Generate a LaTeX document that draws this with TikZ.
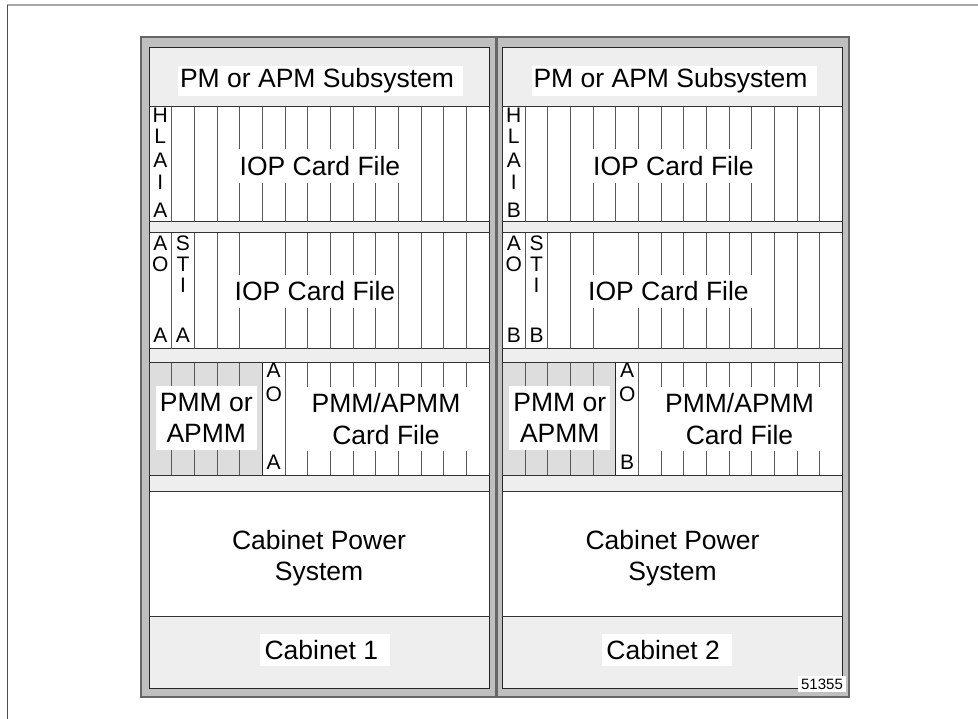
\documentclass[tikz,border=0pt]{standalone}
\usepackage{fontspec}
\setmainfont{Liberation Sans}
\definecolor{bezel}     {HTML}{BFBFBF}
\definecolor{panelgray} {HTML}{EEEEEE}
\definecolor{pmmgray}   {HTML}{DDDDDD}
\newcommand{\cabfont}{\fontsize{26.5}{31.5}\selectfont}
\newcommand{\ltrfont}{\fontsize{21}{23}\selectfont}
\newcommand{\idfont}{\fontsize{15}{17}\selectfont}
\tikzset{
  bezelbox/.style={draw=black!60, fill=bezel, line width=1.5pt},
  panelbox/.style={draw=black!85, fill=panelgray, line width=1pt},
  filebox/.style={draw=black!80, fill=white, line width=1pt},
  slotline/.style={draw=black!65, line width=0.8pt},
  tag/.style={fill=white, font=\cabfont, inner xsep=3pt, inner ysep=7pt, align=center},
  ltr/.style={font=\ltrfont, inner sep=0pt}
}

\begin{document}
\begin{tikzpicture}[x=1pt,y=-1pt]
  \useasboundingbox (0,0) rectangle (978,719);
  % page frame
  \draw[black!35, line width=1.5pt] (7,5) -- (978,5);
  \draw[black!70, line width=1pt] (7,5) -- (7,719);

  \foreach \cab/\ox/\bl/\side/\cx in {1/0/141/A/325, 2/353.5/497/B/666.8}{
    % cabinet frame
    \draw[bezelbox] (\bl,37) rectangle (\ox+495.5,697);
    \draw[panelbox] (\ox+149,48) rectangle (\ox+489,688);
    \node[tag, inner xsep=2pt, inner ysep=2.5pt] (pm\cab) at (\ox+320.7,81) {PM or APM Subsystem~};

    % first IOP card file
    \draw[filebox] (\ox+149,107) rectangle (\ox+489,222);
    \foreach \k in {1,...,14}
      \draw[slotline] (\ox+149+\k*22.667,107) -- (\ox+149+\k*22.667,222);
    \node[tag] (iopa\cab) at (\ox+320,166) {IOP Card File};
    \foreach \l/\y [count=\n] in {H/115.5, L/136, A/160, I/182, \side/210}
      \node[ltr] (hlai\cab-\n) at (\ox+160.3,\y) {\l};

    % second IOP card file
    \draw[filebox] (\ox+149,233) rectangle (\ox+489,349);
    \foreach \k in {1,2,3,4,6,7,...,14}
      \draw[slotline] (\ox+149+\k*22.667,233) -- (\ox+149+\k*22.667,349);
    \node[tag] (iopb\cab) at (\ox+315,291.5) {IOP Card File};
    \foreach \l/\y [count=\n] in {A/243, O/264, \side/335}
      \node[ltr] (ao\cab-\n) at (\ox+160.3,\y) {\l};
    \foreach \l/\y [count=\n] in {S/243.5, T/264.5, I/285.5, \side/335}
      \node[ltr] (sti\cab-\n) at (\ox+183,\y) {\l};

    % PMM card file
    \draw[filebox] (\ox+149,363) rectangle (\ox+489,475);
    \fill[pmmgray] (\ox+149.5,363.5) rectangle (\ox+262.3,474.5);
    \foreach \k in {1,2,3,4,6,7,...,14}
      \draw[slotline] (\ox+149+\k*22.667,363) -- (\ox+149+\k*22.667,475);
    \draw[black!85, line width=1pt] (\ox+262.3,363) -- (\ox+262.3,475);
    \node[tag, inner xsep=4pt] (pmm\cab) at (\ox+206.3,418) {PMM or\\APMM};
    \node[tag, inner xsep=8pt] (pmmfile\cab) at (\ox+386,419) {PMM/APMM\\Card File};
    \foreach \l/\y [count=\n] in {A/370, O/394.7, \side/462.5}
      \node[ltr] (aop\cab-\n) at (\ox+273.7,\y) {\l};

    % power system
    \draw[filebox] (\ox+149,491) rectangle (\ox+489,616);
    \node[font=\cabfont, align=center] (pwr\cab) at (\ox+319,558) {Cabinet Power\\System};
    \node[tag, inner xsep=4.5pt, inner ysep=6.5pt] (cab\cab) at (\cx,650) {Cabinet \cab~};
  }

  \node[fill=white, font=\idfont, inner xsep=3pt, inner ysep=3pt] (figid) at (822,684) {51355};
\end{tikzpicture}
\end{document}
